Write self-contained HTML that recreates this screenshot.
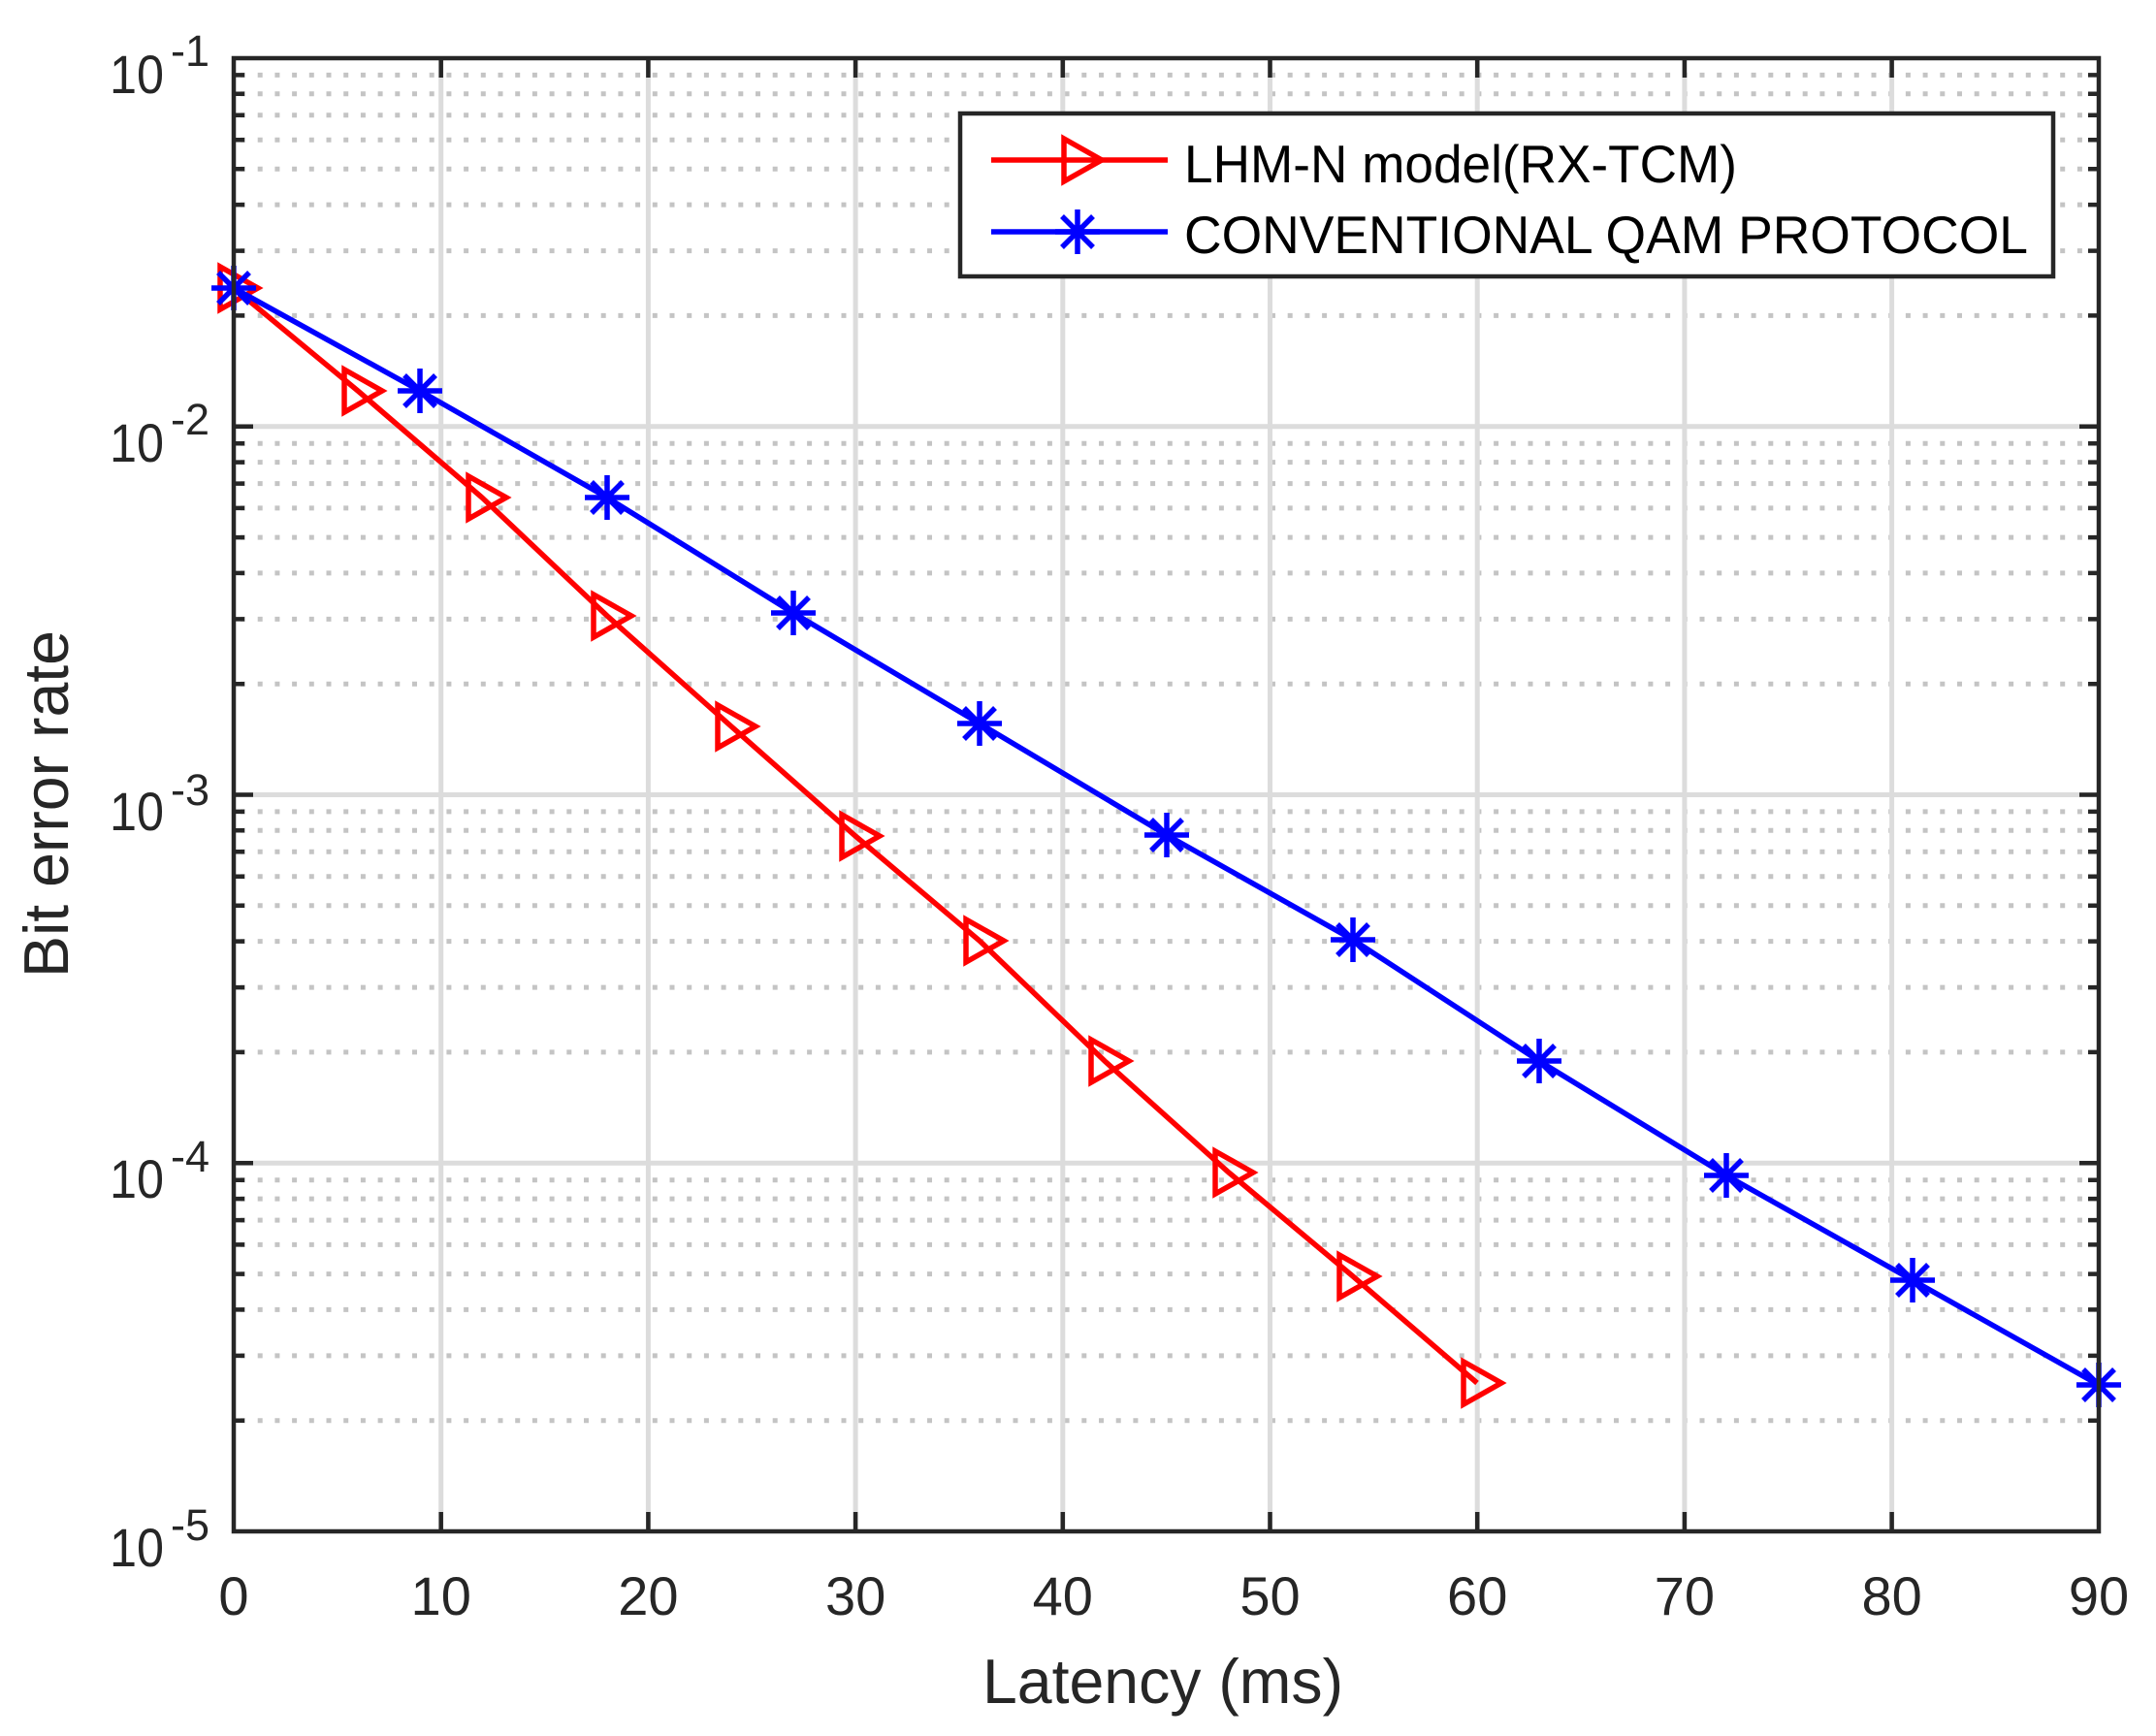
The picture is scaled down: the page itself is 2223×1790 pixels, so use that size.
<!DOCTYPE html>
<html><head><meta charset="utf-8"><style>html,body{margin:0;padding:0;background:#fff}svg{display:block}</style></head>
<body>
<svg width="2223" height="1790" viewBox="0 0 2223 1790" xmlns="http://www.w3.org/2000/svg" font-family="Liberation Sans, Arial, sans-serif">
<rect width="2223" height="1790" fill="#fff"/>
<g stroke="#c4c4c4" stroke-width="5" stroke-dasharray="5 12.7" fill="none">
<path d="M248 77.4H2160M248 96.8H2160M248 118.8H2160M248 144.2H2160M248 174.3H2160M248 211.1H2160M248 258.6H2160M248 325.4H2160
M248 457.2H2160M248 476.6H2160M248 498.6H2160M248 523.9H2160M248 554.1H2160M248 590.9H2160M248 638.4H2160M248 705.2H2160
M248 836.9H2160M248 856.3H2160M248 878.3H2160M248 903.7H2160M248 933.8H2160M248 970.6H2160M248 1018.1H2160M248 1084.9H2160
M248 1216.7H2160M248 1236.1H2160M248 1258.1H2160M248 1283.4H2160M248 1313.6H2160M248 1350.4H2160M248 1397.9H2160M248 1464.7H2160"/>
</g>
<g stroke="#dcdcdc" stroke-width="5" fill="none">
<path d="M241 439.75H2164M241 819.5H2164M241 1199.25H2164"/>
<path d="M454.7 60V1579M668.4 60V1579M882.1 60V1579M1095.8 60V1579M1309.5 60V1579M1523.2 60V1579M1736.9 60V1579M1950.6 60V1579"/>
</g>
<g stroke="#262626" stroke-width="4.5" fill="none">
<path d="M241 439.75h20M241 819.5h20M241 1199.25h20M2164 439.75h-20M2164 819.5h-20M2164 1199.25h-20"/>
<path d="M454.7 1579v-20M668.4 1579v-20M882.1 1579v-20M1095.8 1579v-20M1309.5 1579v-20M1523.2 1579v-20M1736.9 1579v-20M1950.6 1579v-20
M454.7 60v20M668.4 60v20M882.1 60v20M1095.8 60v20M1309.5 60v20M1523.2 60v20M1736.9 60v20M1950.6 60v20"/>
<path d="M241 77.4h11M241 96.8h11M241 118.8h11M241 144.2h11M241 174.3h11M241 211.1h11M241 258.6h11M241 325.4h11
M241 457.2h11M241 476.6h11M241 498.6h11M241 523.9h11M241 554.1h11M241 590.9h11M241 638.4h11M241 705.2h11
M241 836.9h11M241 856.3h11M241 878.3h11M241 903.7h11M241 933.8h11M241 970.6h11M241 1018.1h11M241 1084.9h11
M241 1216.7h11M241 1236.1h11M241 1258.1h11M241 1283.4h11M241 1313.6h11M241 1350.4h11M241 1397.9h11M241 1464.7h11
M2164 77.4h-11M2164 96.8h-11M2164 118.8h-11M2164 144.2h-11M2164 174.3h-11M2164 211.1h-11M2164 258.6h-11M2164 325.4h-11
M2164 457.2h-11M2164 476.6h-11M2164 498.6h-11M2164 523.9h-11M2164 554.1h-11M2164 590.9h-11M2164 638.4h-11M2164 705.2h-11
M2164 836.9h-11M2164 856.3h-11M2164 878.3h-11M2164 903.7h-11M2164 933.8h-11M2164 970.6h-11M2164 1018.1h-11M2164 1084.9h-11
M2164 1216.7h-11M2164 1236.1h-11M2164 1258.1h-11M2164 1283.4h-11M2164 1313.6h-11M2164 1350.4h-11M2164 1397.9h-11M2164 1464.7h-11"/>
</g>
<g stroke="#ff0000" stroke-width="5.5" fill="none" stroke-linejoin="miter">
<polyline points="241,297 369,403 497,513 626,635 754,749 882,862 1010,970 1139,1094 1267,1209 1395,1316 1523,1426"/>
<path d="M227 275L266 297L227 319Z"/>
<path d="M355 381L394 403L355 425Z"/>
<path d="M483 491L522 513L483 535Z"/>
<path d="M612 613L651 635L612 657Z"/>
<path d="M740 727L779 749L740 771Z"/>
<path d="M868 840L907 862L868 884Z"/>
<path d="M996 948L1035 970L996 992Z"/>
<path d="M1125 1072L1164 1094L1125 1116Z"/>
<path d="M1253 1187L1292 1209L1253 1231Z"/>
<path d="M1381 1294L1420 1316L1381 1338Z"/>
<path d="M1509 1404L1548 1426L1509 1448Z"/>
</g>
<g stroke="#0000ff" stroke-width="5.5" fill="none">
<polyline points="241,297 433,403 626,513 818,632 1010,746 1203,861 1395,969 1587,1094 1780,1212 1972,1320 2164,1428"/>
<path d="M241 274v46M218 297h46M225 281l32 32M225 313l32 -32
M433 380v46M410 403h46M417 387l32 32M417 419l32 -32
M626 490v46M603 513h46M610 497l32 32M610 529l32 -32
M818 609v46M795 632h46M802 616l32 32M802 648l32 -32
M1010 723v46M987 746h46M994 730l32 32M994 762l32 -32
M1203 838v46M1180 861h46M1187 845l32 32M1187 877l32 -32
M1395 946v46M1372 969h46M1379 953l32 32M1379 985l32 -32
M1587 1071v46M1564 1094h46M1571 1078l32 32M1571 1110l32 -32
M1780 1189v46M1757 1212h46M1764 1196l32 32M1764 1228l32 -32
M1972 1297v46M1949 1320h46M1956 1304l32 32M1956 1336l32 -32
M2164 1405v46M2141 1428h46M2148 1412l32 32M2148 1444l32 -32"/>
</g>
<rect x="241" y="60" width="1923" height="1519" fill="none" stroke="#262626" stroke-width="4.5"/>
<rect x="990" y="117" width="1127" height="168" fill="#fff" stroke="#262626" stroke-width="4.5"/>
<g stroke-width="5.5" fill="none">
<path d="M1022 165H1204" stroke="#ff0000"/>
<path d="M1097 143L1136 165L1097 187Z" stroke="#ff0000"/>
<path d="M1022 239H1204" stroke="#0000ff"/>
<path d="M1111 216v46M1088 239h46M1095 223l32 32M1095 255l32 -32" stroke="#0000ff"/>
</g>
<g fill="#000" font-size="55">
<text x="1221" y="188" textLength="570" lengthAdjust="spacingAndGlyphs">LHM-N model(RX-TCM)</text>
<text x="1221" y="261" textLength="870" lengthAdjust="spacingAndGlyphs">CONVENTIONAL QAM PROTOCOL</text>
</g>
<g fill="#262626" font-size="56" text-anchor="middle">
<text x="241" y="1665">0</text>
<text x="454.7" y="1665">10</text>
<text x="668.4" y="1665">20</text>
<text x="882.1" y="1665">30</text>
<text x="1095.8" y="1665">40</text>
<text x="1309.5" y="1665">50</text>
<text x="1523.2" y="1665">60</text>
<text x="1736.9" y="1665">70</text>
<text x="1950.6" y="1665">80</text>
<text x="2164" y="1665">90</text>
</g>
<g fill="#262626">
<g font-size="56">
<text x="113" y="96" textLength="56" lengthAdjust="spacingAndGlyphs">10</text>
<text x="113" y="476" textLength="56" lengthAdjust="spacingAndGlyphs">10</text>
<text x="113" y="856" textLength="56" lengthAdjust="spacingAndGlyphs">10</text>
<text x="113" y="1235" textLength="56" lengthAdjust="spacingAndGlyphs">10</text>
<text x="113" y="1615" textLength="56" lengthAdjust="spacingAndGlyphs">10</text>
</g>
<g font-size="45">
<text x="176" y="68">-1</text>
<text x="176" y="448">-2</text>
<text x="176" y="830">-3</text>
<text x="176" y="1208">-4</text>
<text x="176" y="1588">-5</text>
</g>
</g>
<text x="1013" y="1756" font-size="65" fill="#262626" textLength="372" lengthAdjust="spacingAndGlyphs">Latency (ms)</text>
<text transform="translate(70,1008) rotate(-90)" font-size="65" fill="#262626" textLength="358" lengthAdjust="spacingAndGlyphs">Bit error rate</text>
</svg>
</body></html>
